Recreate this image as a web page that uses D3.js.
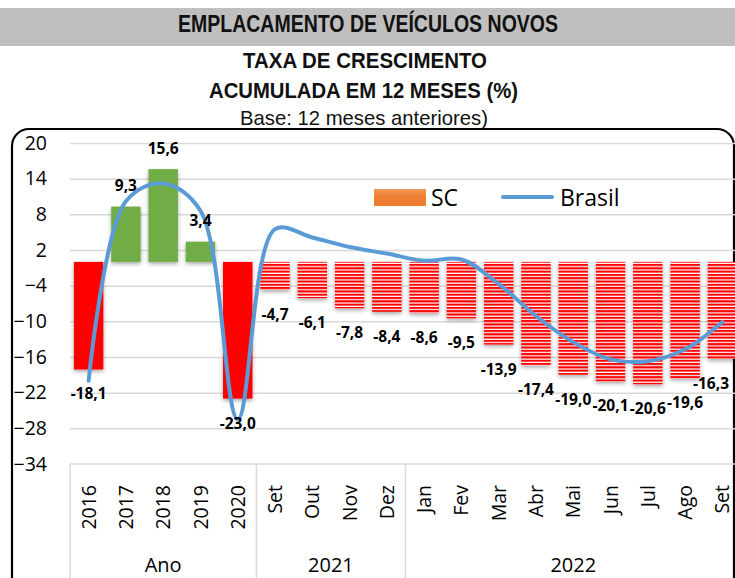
<!DOCTYPE html>
<html>
<head>
<meta charset="utf-8">
<script src="https://cdn.jsdelivr.net/npm/d3@7"></script>
<style>
  body { margin: 0; background: #fff; }
  svg { display: block; }
  .ttl { font-family: "Liberation Sans", Arial, sans-serif; }
  .axis text, .lbl, .leg { font-family: "Open Sans", sans-serif; }
</style>
</head>
<body>
<div id="chart"></div>
<script>
// categories (bottom axis) and their groups
const categories = ["2016", "2017", "2018", "2019", "2020", "Set", "Out", "Nov", "Dez",
  "Jan", "Fev", "Mar", "Abr", "Mai", "Jun", "Jul", "Ago", "Set"];
const groupNames = ["Ano", "2021", "2022"];
const groupOf = [0, 0, 0, 0, 0, 1, 1, 1, 1, 2, 2, 2, 2, 2, 2, 2, 2, 2];

// series values (%)
const scValues = [-18.1, 9.3, 15.6, 3.4, -23.0, -4.7, -6.1, -7.8, -8.4,
  -8.6, -9.5, -13.9, -17.4, -19.0, -20.1, -20.6, -19.6, -16.3];
const brasilValues = [-20.0, 10.2, 13.2, 8.6, -26.5, 5.5, 4.1, 2.5, 1.4,
  0.2, 0.4, -3.7, -9.1, -13.5, -16.4, -16.7, -14.7, -10.1];

const yTicks = [20, 14, 8, 2, -4, -10, -16, -22, -28, -34];

const W = 735, H = 578;
const svg = d3.select("#chart").append("svg").attr("width", W).attr("height", H);
const defs = svg.append("defs");

// red / white stripes for the monthly bars
const pat = defs.append("pattern").attr("id", "stripes")
  .attr("patternUnits", "userSpaceOnUse").attr("width", 8).attr("height", 3.3);
pat.append("rect").attr("width", 8).attr("height", 3.3).attr("fill", "#fff");
pat.append("rect").attr("width", 8).attr("height", 2.1).attr("fill", "#ff0000");

const grad = defs.append("linearGradient").attr("id", "scleg").attr("x1", 0).attr("y1", 0).attr("x2", 0).attr("y2", 1);
grad.append("stop").attr("offset", "0%").attr("stop-color", "#f39a5c");
grad.append("stop").attr("offset", "45%").attr("stop-color", "#ed7d31");

const shadow = defs.append("filter").attr("id", "shadow").attr("x", "-30%").attr("y", "-30%").attr("width", "160%").attr("height", "160%");
shadow.append("feDropShadow").attr("dx", 0).attr("dy", 2).attr("stdDeviation", 2)
  .attr("flood-color", "#000").attr("flood-opacity", 0.35);

// title block (Arial Narrow look: squeeze the text to its width)
svg.append("rect").attr("x", 0).attr("y", 8).attr("width", W).attr("height", 38).attr("fill", "#bfbfbf");
function title(txt, cxPos, baseY, size, bold, width) {
  svg.append("text").attr("class", "ttl").attr("x", cxPos - width / 2).attr("y", baseY)
    .attr("font-size", size).attr("font-weight", bold ? "bold" : "normal").attr("fill", "#111")
    .attr("textLength", width).attr("lengthAdjust", "spacingAndGlyphs")
    .text(txt);
}
title("EMPLACAMENTO DE VEÍCULOS NOVOS", 368, 32, 24, true, 380);
title("TAXA DE CRESCIMENTO", 365, 68, 22.5, true, 244);
title("ACUMULADA EM 12 MESES (%)", 363.5, 98, 22.5, true, 309);
title("Base: 12 meses anteriores)", 364, 125, 21, false, 248);

// rounded frame of the chart
svg.append("rect").attr("x", 12).attr("y", 129).attr("width", 722).attr("height", 480)
  .attr("rx", 17).attr("fill", "none").attr("stroke", "#000").attr("stroke-width", 2.2);

// scales
const x = d3.scaleBand().domain(d3.range(categories.length)).range([70, 741])
  .paddingInner(0.21).paddingOuter(0.105);
const y = d3.scaleLinear().domain([-34, 20]).range([464, 143]);
const cx = i => x(i) + x.bandwidth() / 2;

// gridlines
svg.append("g").attr("transform", "translate(70,0)")
  .call(d3.axisLeft(y).tickValues(yTicks.slice(0, -1)).tickSize(-(741 - 70)).tickFormat(""))
  .call(g => g.select(".domain").remove())
  .call(g => g.selectAll("line").attr("stroke", "#d9d9d9").attr("stroke-width", 1.5));

// y axis labels
svg.append("g").attr("class", "axis").attr("transform", "translate(47,0)")
  .call(d3.axisLeft(y).tickValues(yTicks).tickSize(0).tickPadding(0))
  .call(g => g.select(".domain").remove())
  .call(g => g.selectAll("text").attr("font-size", 19.5).attr("fill", "#000"));

// category axis: line, separators, labels
const axisY = y(-34);
const ax = svg.append("g").attr("class", "axis");
ax.append("line").attr("x1", 70).attr("x2", 741).attr("y1", axisY).attr("y2", axisY)
  .attr("stroke", "#d9d9d9").attr("stroke-width", 1.5);
const bounds = [0];
groupOf.forEach((g, i) => { if (i > 0 && g !== groupOf[i - 1]) bounds.push(i); });
const edgeX = i => x(i) - x.step() * x.paddingInner() / 2;
bounds.forEach(b => {
  ax.append("line").attr("x1", edgeX(b)).attr("x2", edgeX(b)).attr("y1", axisY).attr("y2", H)
    .attr("stroke", "#d9d9d9").attr("stroke-width", 1.5);
});
ax.selectAll("text.cat").data(categories).join("text").attr("class", "cat")
  .attr("transform", (d, i) => `translate(${cx(i)},485) rotate(-90)`)
  .attr("text-anchor", "end").attr("dy", "0.36em").attr("font-size", 19.5).attr("fill", "#000")
  .text(d => d);
groupNames.forEach((name, g) => {
  const idx = d3.range(categories.length).filter(i => groupOf[i] === g);
  const x0 = edgeX(idx[0]), x1 = idx[idx.length - 1] + 1 < categories.length ? edgeX(idx[idx.length - 1] + 1) : 741;
  ax.append("text").attr("x", (x0 + x1) / 2).attr("y", 572).attr("text-anchor", "middle")
    .attr("font-size", 20).attr("fill", "#000").text(name);
});

// SC bars
const barFill = (v, i) => groupOf[i] !== 0 ? "url(#stripes)" : (v < 0 ? "#ff0000" : "#70ad47");
svg.append("g").attr("filter", "url(#shadow)")
  .selectAll("rect").data(scValues).join("rect")
  .attr("x", (d, i) => x(i)).attr("width", x.bandwidth())
  .attr("y", d => y(Math.max(0, d))).attr("height", d => Math.abs(y(d) - y(0)))
  .attr("fill", barFill);

// Brasil line
const line = d3.line().x((d, i) => cx(i)).y(d => y(d)).curve(d3.curveCatmullRom.alpha(0.5));
svg.append("path").datum(brasilValues).attr("d", line)
  .attr("fill", "none").attr("stroke", "#5b9bd5").attr("stroke-width", 4).attr("stroke-linecap", "round");

// data labels
const fmt = v => d3.format(".1f")(v).replace(".", ",").replace("−", "-");
svg.append("g").selectAll("text").data(scValues).join("text").attr("class", "lbl")
  .attr("x", (d, i) => cx(i))
  .attr("y", d => d >= 0 ? y(d) - 15.5 : y(d) + 30)
  .attr("text-anchor", "middle").attr("font-size", 15.5).attr("font-weight", "bold").attr("fill", "#000")
  .text(d => fmt(d))
  .each(function () {
    const w = this.getComputedTextLength();
    const cur = +this.getAttribute("x");
    if (cur + w / 2 > 729) this.setAttribute("x", 729 - w / 2);
  });

// legend
const leg = svg.append("g").attr("class", "leg");
leg.append("rect").attr("x", 374).attr("y", 189).attr("width", 52).attr("height", 17).attr("fill", "url(#scleg)");
leg.append("text").attr("x", 431).attr("y", 206).attr("font-size", 23).text("SC");
leg.append("line").attr("x1", 503).attr("x2", 552).attr("y1", 197).attr("y2", 197)
  .attr("stroke", "#5b9bd5").attr("stroke-width", 4).attr("stroke-linecap", "round");
leg.append("text").attr("x", 560).attr("y", 206).attr("font-size", 23).text("Brasil");
</script>
</body>
</html>
